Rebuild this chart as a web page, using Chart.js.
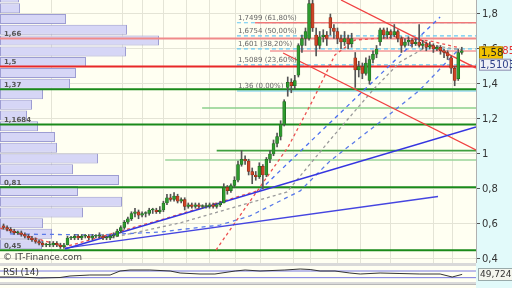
<!DOCTYPE html>
<html>
<head>
<meta charset="utf-8">
<script src="https://cdn.jsdelivr.net/npm/chart.js@4.4.1/dist/chart.umd.min.js"></script>
<style>
  body { margin: 0; width: 512px; height: 288px; overflow: hidden; background: #dcdcdc; font-family: "DejaVu Sans", sans-serif; }
  #wrap { position: relative; width: 512px; height: 288px; background: #d9d9d9; }
  #axisBg { position: absolute; left: 476px; top: 0; width: 36px; height: 288px; background: #e2fafa; }
  #main { position: absolute; left: 0; top: 0; }
  #rsi { position: absolute; left: 0; top: 266px; }
  #bottomPanel { position: absolute; left: 0; top: 284px; width: 476px; height: 4px; background: #fffff2; border-top: 1px solid #b8b8b8; }
  .txt { position: absolute; white-space: nowrap; color: #444; }
  #credit { left: 3px; top: 252px; font-size: 9px; }
  #rsiLabel { left: 3px; top: 267px; font-size: 9px; color: #333; }
  #rsiValue { left: 478px; top: 268px; font-size: 9px; padding: 0 1px; background: #f4f6ee; border: 1px solid #9aa; color: #333; line-height: 11px; }
</style>
</head>
<body>
<div id="wrap">
  <div id="axisBg"></div>
  <canvas id="main" width="512" height="263"></canvas>
  <canvas id="rsi" width="512" height="16"></canvas>
  <div id="bottomPanel"></div>
  <div class="txt" id="credit">© IT-Finance.com</div>
  <div class="txt" id="rsiLabel">RSI (14)</div>
  <div class="txt" id="rsiValue">49,724</div>
</div>
<script>
// Candles (weekly), index 0..129
const opens = [0.59,0.58,0.57,0.56,0.55,0.55,0.54,0.53,0.52,0.51,0.50,0.49,0.48,0.48,0.48,0.49,0.48,0.47,0.48,0.52,
  0.52,0.53,0.52,0.53,0.53,0.52,0.53,0.53,0.53,0.52,0.52,0.53,0.53,0.56,0.58,0.61,0.63,0.66,0.67,0.65,
  0.66,0.66,0.68,0.68,0.67,0.68,0.72,0.75,0.74,0.76,0.73,0.74,0.70,0.71,0.70,0.71,0.70,0.70,0.70,0.71,
  0.70,0.71,0.72,0.81,0.79,0.82,0.85,0.94,0.97,0.96,0.90,0.88,0.87,0.93,0.88,0.97,1.00,1.06,1.10,1.17,
  1.38,1.41,1.39,1.45,1.62,1.66,1.66,1.86,1.68,1.62,1.67,1.68,1.78,1.72,1.70,1.66,1.64,1.66,1.63,1.55,
  1.48,1.50,1.46,1.42,1.54,1.57,1.64,1.71,1.68,1.70,1.68,1.70,1.66,1.62,1.64,1.65,1.63,1.64,1.62,1.63,
  1.61,1.62,1.60,1.61,1.59,1.58,1.55,1.49,1.43,1.58];
const highs = [0.60,0.59,0.58,0.57,0.56,0.56,0.55,0.54,0.53,0.52,0.51,0.50,0.49,0.50,0.50,0.50,0.49,0.49,0.53,0.53,
  0.54,0.54,0.54,0.54,0.54,0.54,0.54,0.55,0.54,0.53,0.54,0.55,0.57,0.59,0.62,0.64,0.67,0.69,0.68,0.67,
  0.67,0.69,0.69,0.69,0.70,0.73,0.77,0.77,0.78,0.77,0.75,0.75,0.72,0.72,0.72,0.72,0.71,0.72,0.72,0.72,
  0.72,0.73,0.83,0.82,0.83,0.87,0.96,1.02,0.99,0.97,0.92,0.90,0.95,0.94,0.98,1.02,1.08,1.12,1.19,1.31,
  1.44,1.43,1.45,1.63,1.68,1.72,1.88,1.88,1.72,1.70,1.71,1.70,1.80,1.74,1.72,1.68,1.70,1.68,1.69,1.58,
  1.53,1.52,1.55,1.56,1.59,1.62,1.72,1.72,1.72,1.71,1.74,1.71,1.67,1.66,1.67,1.66,1.66,1.74,1.65,1.64,
  1.64,1.63,1.62,1.62,1.60,1.59,1.56,1.50,1.60,1.61];
const lows = [0.57,0.56,0.55,0.54,0.54,0.53,0.52,0.51,0.50,0.49,0.48,0.47,0.47,0.47,0.47,0.47,0.46,0.46,0.48,0.51,
  0.51,0.51,0.51,0.52,0.51,0.51,0.52,0.52,0.51,0.51,0.51,0.52,0.53,0.55,0.57,0.60,0.62,0.64,0.63,0.64,
  0.64,0.65,0.66,0.66,0.66,0.67,0.71,0.73,0.73,0.72,0.72,0.68,0.69,0.69,0.69,0.69,0.69,0.69,0.69,0.69,
  0.69,0.70,0.72,0.77,0.78,0.81,0.84,0.93,0.94,0.88,0.83,0.85,0.86,0.80,0.87,0.95,0.99,1.04,1.08,1.16,
  1.33,1.35,1.37,1.44,1.58,1.62,1.65,1.70,1.56,1.60,1.64,1.62,1.68,1.66,1.63,1.60,1.62,1.60,1.61,1.38,
  1.44,1.43,1.45,1.40,1.52,1.55,1.62,1.66,1.66,1.66,1.67,1.64,1.58,1.61,1.62,1.61,1.62,1.61,1.60,1.59,
  1.60,1.58,1.59,1.57,1.55,1.54,1.46,1.39,1.42,1.57];
const closes = [0.58,0.57,0.56,0.55,0.55,0.54,0.53,0.52,0.51,0.50,0.49,0.48,0.48,0.48,0.49,0.48,0.47,0.48,0.52,0.52,
  0.53,0.52,0.53,0.53,0.52,0.53,0.53,0.53,0.52,0.52,0.53,0.53,0.56,0.58,0.61,0.63,0.66,0.67,0.65,0.66,
  0.66,0.68,0.68,0.67,0.68,0.72,0.75,0.74,0.76,0.73,0.74,0.70,0.71,0.70,0.71,0.70,0.70,0.70,0.71,0.70,
  0.71,0.72,0.81,0.79,0.82,0.85,0.94,0.97,0.96,0.90,0.88,0.87,0.93,0.88,0.97,1.00,1.06,1.10,1.17,1.30,
  1.41,1.39,1.42,1.62,1.66,1.70,1.86,1.72,1.62,1.67,1.68,1.66,1.72,1.70,1.66,1.64,1.66,1.63,1.66,1.48,
  1.50,1.46,1.52,1.54,1.57,1.60,1.71,1.68,1.70,1.68,1.70,1.66,1.62,1.64,1.65,1.63,1.64,1.62,1.63,1.61,
  1.62,1.60,1.61,1.59,1.58,1.56,1.49,1.42,1.58,1.59];

// Volume-at-price profile (left side)
const volPrices = [1.894,1.833,1.771,1.710,1.649,1.586,1.526,1.463,1.402,1.341,1.281,1.220,
  1.158,1.097,1.035,0.974,0.913,0.851,0.789,0.727,0.666,0.604,0.544,0.484];
const volAmounts = [19,20,66,127,159,126,86,76,70,43,32,27,38,55,57,98,73,119,78,122,83,43,52,42];

// Support / resistance levels across the whole chart
const levelPrices = [1.66, 1.5, 1.37, 1.1684, 0.81, 0.45];
const levelTexts = ['1,66', '1,5', '1,37', '1,1684', '0,81', '0,45'];

// Shorter horizontal levels: start index, price
const shortStarts = [70.8, 75, 55.9, 60, 45.5];
const shortPrices = [1.7499, 1.5885, 1.263, 1.019, 0.966];

// Fibonacci retracement
const fibStart = 65.7;
const fibPrices = [1.7499, 1.6754, 1.601, 1.5089, 1.36];
const fibTexts = ['1,7499 (61,80%)', '1,6754 (50,00%)', '1,601 (38,20%)', '1,5089 (23,60%)', '1,36 (0,00%)'];

// Trend lines [x0, y0, x1, y1]
const blueTrend1 = [17.3, 0.457, 133, 1.154];
const blueTrend2 = [17.3, 0.462, 122.3, 0.757];
const redTrend1 = [95, 1.88, 133, 1.491];
const redTrend2 = [78.7, 1.577, 133, 1.023];
const blueSteep = [72.2, 0.794, 122.9, 1.783];

// Dashed curves
const redDashAIdx = [-1, 17.3, 46, 72.2];
const redDashAVals = [0.577, 0.469, 0.634, 0.794];
const redDashBIdx = [59.8, 65.7, 80.1, 87.1, 93.3, 98.9, 110.2, 120.1, 128.5];
const redDashBVals = [0.451, 0.623, 1.04, 1.309, 1.566, 1.651, 1.669, 1.646, 1.606];
const grayDashIdx = [30, 49.7, 79.8, 91.9, 104, 111.6, 120.1, 129.1];
const grayDashVals = [0.52, 0.606, 0.783, 1.08, 1.366, 1.526, 1.623, 1.594];
const blueDashIdx = [1.8, 27.2, 44, 60.9, 69.4, 83.5, 91.9, 106, 117.2, 127.7];
const blueDashVals = [0.543, 0.537, 0.554, 0.594, 0.646, 0.789, 0.96, 1.183, 1.366, 1.589];

// RSI(14)
const rsiIdx = [-1, 4.6, 10.3, 15.9, 18.7, 24.3, 30, 32.8, 35.6, 41.2, 46.9, 49.7, 55.3, 59.5, 65.2, 68, 72.2, 79.2, 83.5, 86.3, 89.1, 93.3, 97.5, 100.4, 106, 111.6, 117.2, 122.9, 126.3, 129.1];
const rsiVals = [34, 34, 28, 31, 40, 46, 46, 70, 76, 76, 70, 58, 52, 52, 70, 76, 70, 76, 82, 79, 70, 70, 58, 52, 58, 55, 52, 52, 34, 49.7];

const yMax = 1.88;
const yMin = 0.377;
const gridIdx = [13.6, 33.6, 39, 44.9, 51.6, 58.1, 65.2, 72.2, 81.5, 86.3, 93.9, 100.4, 108.8, 120.9, 126.3];

const fmt = v => Math.abs(v - 1) < 1e-6 ? '1' : v.toFixed(1).replace('.', ',');
const seg = (a) => [{x: a[0], y: a[1]}, {x: a[2], y: a[3]}];
const pts = (xs, ys) => xs.map((x, k) => ({x: x, y: ys[k]}));

const candleIdx = opens.map((o, i) => i);
const upColor = '#2e9a2e';
const downColor = '#cc4426';

const plotBg = {
  id: 'plotBg',
  beforeDraw(chart) {
    const {ctx, chartArea: a} = chart;
    ctx.save();
    ctx.fillStyle = '#fffff2';
    ctx.fillRect(a.left, a.top, a.right - a.left, a.bottom - a.top);
    ctx.restore();
  }
};

const labels = {
  id: 'labels',
  afterDraw(chart) {
    const {ctx, scales: {x, y}} = chart;
    ctx.save();
    ctx.textBaseline = 'bottom';
    ctx.font = 'bold 7px "DejaVu Sans"';
    ctx.fillStyle = '#555';
    levelPrices.forEach((p, k) => ctx.fillText(levelTexts[k], 4, y.getPixelForValue(p) - 1));
    ctx.font = '7px "DejaVu Sans"';
    ctx.fillStyle = '#666';
    fibPrices.forEach((p, k) => ctx.fillText(fibTexts[k], x.getPixelForValue(fibStart) + 1, y.getPixelForValue(p) - 1));

    // last price boxes
    ctx.textBaseline = 'middle';
    ctx.font = '10px "DejaVu Sans"';
    let py = y.getPixelForValue(1.5885);
    ctx.fillStyle = '#e83030';
    ctx.fillText('1,5885', 480, py);
    py = y.getPixelForValue(1.58);
    ctx.fillStyle = '#f2c200';
    ctx.fillRect(479, py - 6, 24, 13);
    ctx.strokeStyle = '#b08800';
    ctx.strokeRect(479.5, py - 5.5, 23, 12);
    ctx.fillStyle = '#222';
    ctx.fillText('1,58', 481, py + 1);
    py = y.getPixelForValue(1.5103);
    ctx.fillStyle = '#eef0f6';
    ctx.fillRect(479, py - 6, 32, 12);
    ctx.strokeStyle = '#8890b0';
    ctx.strokeRect(479.5, py - 5.5, 31, 11);
    ctx.fillStyle = '#30408a';
    ctx.fillText('1,5103', 480, py + 1);
    ctx.restore();
  }
};

const datasets = [];

// candle bodies and wicks
datasets.push({
  type: 'bar', order: 1, grouped: false, barThickness: 3, minBarLength: 1,
  data: candleIdx.map(i => ({x: i, y: [opens[i], closes[i]]})),
  backgroundColor: candleIdx.map(i => closes[i] >= opens[i] ? upColor : downColor),
  borderColor: candleIdx.map(i => closes[i] >= opens[i] ? '#1d5e1d' : '#7c2414'),
  borderWidth: 0.6, borderSkipped: false
});
datasets.push({
  type: 'bar', order: 2, grouped: false, barThickness: 1,
  data: candleIdx.map(i => ({x: i, y: [lows[i], highs[i]]})),
  backgroundColor: '#555'
});

// volume profile
datasets.push({
  type: 'bar', order: 100, indexAxis: 'y', xAxisID: 'xv', yAxisID: 'yv', grouped: false,
  data: volPrices.map((p, k) => ({x: volAmounts[k], y: p})),
  backgroundColor: '#d6d6f6', borderColor: '#9d9dd2', borderWidth: 1, borderSkipped: false,
  barPercentage: 0.95, categoryPercentage: 1
});

const line = (data, color, width, dash, order) => ({
  type: 'line', data: data, borderColor: color, borderWidth: width, borderDash: dash || [],
  pointRadius: 0, fill: false, tension: 0, order: order || 50
});

// fib lines
fibPrices.forEach((p, k) => {
  const solid = k === fibPrices.length - 1;
  datasets.push(line([{x: fibStart, y: p}, {x: 133, y: p}], '#66c8f2', 1.2, solid ? [] : [4, 3], 60));
});

const levelColors = ['#f08a8a', '#e82828', '#1a8a1a', '#1a8a1a', '#1a8a1a', '#1a8a1a'];
levelPrices.forEach((p, k) => {
  datasets.push(line([{x: -1, y: p}, {x: 133, y: p}], levelColors[k], 2, null, 55));
});
const shortColors = ['#f07878', '#f39a9a', '#8cd08c', '#3ea03e', '#9ad49a'];
shortPrices.forEach((p, k) => {
  datasets.push(line([{x: shortStarts[k], y: p}, {x: 133, y: p}], shortColors[k], 1.6, null, 55));
});

datasets.push(line(seg(blueTrend1), '#3535e0', 1.5, null, 40));
datasets.push(line(seg(blueTrend2), '#4545e0', 1.3, null, 40));
datasets.push(line(seg(redTrend1), '#f04040', 1.3, null, 40));
datasets.push(line(seg(redTrend2), '#f04040', 1.3, null, 40));
datasets.push(line(seg(blueSteep), '#4a6ef0', 1.3, [4, 4], 45));
datasets.push(line(pts(redDashAIdx, redDashAVals), '#ec5050', 1.3, [3, 3], 45));
datasets.push(line(pts(redDashBIdx, redDashBVals), '#ec5050', 1.3, [3, 3], 45));
datasets.push(line(pts(grayDashIdx, grayDashVals), '#9a9a9a', 1.3, [3, 3], 45));
datasets.push(line(pts(blueDashIdx, blueDashVals), '#5a7ae8', 1.3, [4, 4], 45));

new Chart(document.getElementById('main'), {
  type: 'bar',
  data: {datasets: datasets},
  options: {
    responsive: false, animation: false, events: [],
    layout: {padding: 0},
    plugins: {legend: {display: false}, tooltip: {enabled: false}},
    scales: {
      x: {
        type: 'linear', min: -1, max: 133, offset: false,
        ticks: {display: false},
        grid: {color: '#e4e4d6', drawTicks: false, offset: false},
        border: {display: false},
        afterBuildTicks: s => { s.ticks = gridIdx.map(v => ({value: v})); }
      },
      y: {
        type: 'linear', position: 'right', min: yMin, max: yMax, offset: false,
        ticks: {stepSize: 0.2, includeBounds: false, callback: v => fmt(v), color: '#333', font: {size: 10, family: 'DejaVu Sans'}, padding: 2},
        grid: {color: '#e4e4d6', tickLength: 4, tickColor: '#555', offset: false},
        border: {display: true, color: '#b0b0b0'},
        afterFit: s => { s.width = 36; s.paddingTop = 0; s.paddingBottom = 0; }
      },
      xv: {type: 'linear', display: false, min: 0, max: 476, offset: false},
      yv: {type: 'linear', display: false, min: yMin, max: yMax, offset: false, grid: {offset: false}}
    }
  },
  plugins: [plotBg, labels]
});

new Chart(document.getElementById('rsi'), {
  type: 'line',
  data: {datasets: [
    line([{x: -1, y: 70}, {x: 133, y: 70}], '#7878e0', 1, null, 10),
    line([{x: -1, y: 30}, {x: 133, y: 30}], '#7878e0', 1, null, 10),
    line(pts(rsiIdx, rsiVals), '#333', 1, null, 1)
  ]},
  options: {
    responsive: false, animation: false, events: [],
    layout: {padding: {right: 36}},
    plugins: {legend: {display: false}, tooltip: {enabled: false}},
    scales: {
      x: {type: 'linear', min: -1, max: 133, display: false},
      y: {type: 'linear', min: 4, max: 100, display: false}
    }
  },
  plugins: [plotBg]
});
</script>
</body>
</html>
